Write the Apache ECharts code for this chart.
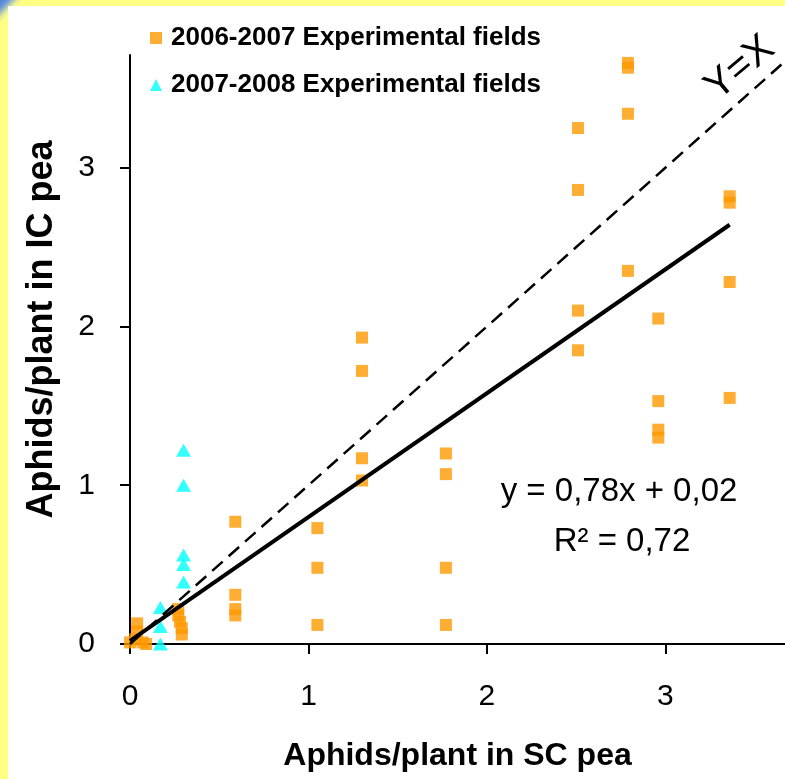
<!DOCTYPE html>
<html>
<head>
<meta charset="utf-8">
<title>Aphids per plant: SC pea vs IC pea</title>
<script src="https://cdn.jsdelivr.net/npm/echarts@6/dist/echarts.min.js"></script>
<style>
  html, body { margin: 0; padding: 0; }
  body {
    width: 785px; height: 779px; overflow: hidden; position: relative;
    background: linear-gradient(135deg, #4c80d6 0px, #6f9ad8 6px, #e8ee98 13px, #ffff84 17px, #ffff84 100%);
  }
  #panel { position: absolute; left: 8px; top: 6px; right: 0; bottom: 0; background: #ffffff; }
  #chart { position: absolute; left: 0; top: 0; width: 785px; height: 779px; }
</style>
</head>
<body>
<div id="panel"></div>
<div id="chart"></div>
<script>
// Aphids per plant, sole-crop (SC) pea on x, intercropped (IC) pea on y
const fields0607 = [
  [0.00, 0.01], [0.03, 0.03], [0.07, 0.01], [0.04, 0.08], [0.04, 0.13], [0.09, 0.00],
  [0.27, 0.22], [0.27, 0.18], [0.28, 0.14], [0.29, 0.10], [0.29, 0.06],
  [0.59, 0.77], [0.59, 0.31], [0.59, 0.22], [0.59, 0.18],
  [1.05, 0.73], [1.05, 0.48], [1.05, 0.12],
  [1.30, 1.93], [1.30, 1.72], [1.30, 1.17], [1.30, 1.03],
  [1.77, 1.20], [1.77, 1.07], [1.77, 0.48], [1.77, 0.12],
  [2.51, 3.25], [2.51, 2.86], [2.51, 2.10], [2.51, 1.85],
  [2.79, 3.66], [2.79, 3.63], [2.79, 3.34], [2.79, 2.35],
  [2.96, 2.05], [2.96, 1.53], [2.96, 1.35], [2.96, 1.30],
  [3.36, 2.82], [3.36, 2.78], [3.36, 2.28], [3.36, 1.55]
];
const fields0708 = [
  [0.30, 1.22], [0.30, 1.00], [0.30, 0.56], [0.30, 0.50], [0.30, 0.39],
  [0.17, 0.23], [0.17, 0.11], [0.17, 0.00]
];
const seriesNames = ['2006-2007 Experimental fields', '2007-2008 Experimental fields'];
const tickValues = [0, 1, 2, 3];

// Linear fit of IC on SC, and its span along x
const SLOPE = 0.78;
const INTERCEPT = 0.02;
const R2 = 0.72;
const fitRange = [0, 3.36];
const identityRange = [0, 3.65];

const fmt = v => v.toFixed(2).replace('.', ',');
const fitLine = fitRange.map(x => [x, SLOPE * x + INTERCEPT]);
const identityLine = identityRange.map(x => [x, x]);

const FONT = '"Liberation Sans", Arial, Helvetica, sans-serif';

const chart = echarts.init(document.getElementById('chart'), null, { renderer: 'canvas' });
chart.setOption({
  animation: false,
  backgroundColor: 'transparent',
  textStyle: { fontFamily: FONT, color: '#000' },
  grid: { left: 130, top: 55, right: 0, bottom: 135 },
  legend: {
    data: seriesNames,
    orient: 'vertical',
    left: 150,
    top: 25,
    padding: 0,
    itemWidth: 12,
    itemHeight: 12,
    itemGap: 21,
    textStyle: { fontFamily: FONT, fontSize: 26, fontWeight: 'bold', color: '#000', lineHeight: 26, padding: [0, 0, 0, 4] }
  },
  xAxis: {
    type: 'value', min: 0, max: 3.67,
    axisLine: { onZero: true, lineStyle: { color: '#000', width: 2 } },
    axisTick: { show: true, customValues: tickValues, length: 10, lineStyle: { color: '#000', width: 2 } },
    axisLabel: { customValues: tickValues, fontSize: 30, color: '#000', margin: 38, fontFamily: FONT },
    splitLine: { show: false },
    name: 'Aphids/plant in SC pea',
    nameLocation: 'middle',
    nameGap: 96,
    nameTextStyle: { fontSize: 32, fontWeight: 'bold', color: '#000', fontFamily: FONT }
  },
  yAxis: {
    type: 'value', min: 0, max: 3.71,
    axisLine: { show: true, onZero: true, lineStyle: { color: '#000', width: 2 } },
    axisTick: { show: true, customValues: tickValues, length: 10, lineStyle: { color: '#000', width: 2 } },
    axisLabel: { customValues: tickValues, fontSize: 30, color: '#000', margin: 35, fontFamily: FONT },
    splitLine: { show: false },
    name: 'Aphids/plant in IC pea',
    nameLocation: 'middle',
    nameGap: 70,
    nameTextStyle: { fontSize: 36, fontWeight: 'bold', color: '#000', fontFamily: FONT, padding: [0, 0, 0, 40] }
  },
  series: [
    {
      name: seriesNames[0], type: 'scatter', data: fields0607,
      symbol: 'rect', symbolSize: 12,
      itemStyle: { color: '#ff9900' }, z: 2
    },
    {
      name: seriesNames[1], type: 'scatter', data: fields0708,
      symbol: 'triangle', symbolSize: [15, 13],
      itemStyle: { color: '#00ffff' }, z: 2
    },
    {
      name: 'Y=X', type: 'line', data: identityLine,
      showSymbol: false, symbol: 'none', silent: true,
      lineStyle: { color: '#000', width: 2.5, type: [14, 8] }, z: 3
    },
    {
      name: 'fit', type: 'line', data: fitLine,
      showSymbol: false, symbol: 'none', silent: true,
      lineStyle: { color: '#000', width: 4 }, z: 4
    }
  ],
  graphic: [
    {
      type: 'text', x: 740, y: 68, rotation: 40 * Math.PI / 180,
      style: { text: 'Y=X', fontSize: 40, fontFamily: FONT, fill: '#000', align: 'center', verticalAlign: 'middle' }
    },
    {
      type: 'text', x: 619, y: 492,
      style: { text: 'y = ' + fmt(SLOPE) + 'x + ' + fmt(INTERCEPT), fontSize: 33, fontFamily: FONT, fill: '#000', align: 'center', verticalAlign: 'middle' }
    },
    {
      type: 'text', x: 622, y: 542,
      style: { text: 'R\u00B2 = ' + fmt(R2), fontSize: 33, fontFamily: FONT, fill: '#000', align: 'center', verticalAlign: 'middle' }
    }
  ]
});
</script>
</body>
</html>
